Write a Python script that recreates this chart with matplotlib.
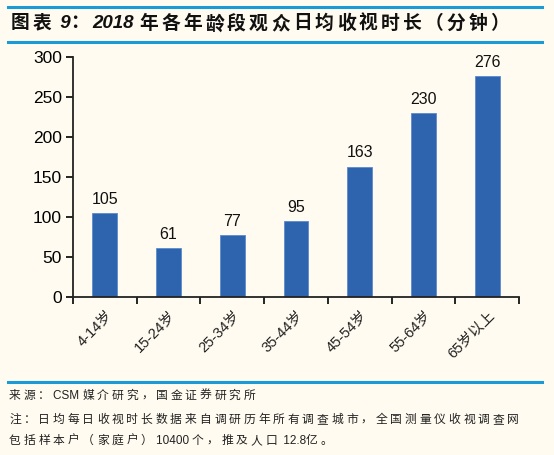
import matplotlib
matplotlib.use('Agg')
import matplotlib.pyplot as plt
from matplotlib.lines import Line2D

plt.rcParams['font.family'] = ['Liberation Sans', 'Noto Sans CJK SC', 'DejaVu Sans']
plt.rcParams['axes.unicode_minus'] = False

# data
age_groups = ['4-14岁', '15-24岁', '25-34岁', '35-44岁', '45-54岁', '55-64岁', '65岁以上']
minutes = [105, 61, 77, 95, 163, 230, 276]
y_ticks = [0, 50, 100, 150, 200, 250, 300]

title_text = '图表 9：2018 年各年龄段观众日均收视时长（分钟）'
source_text = '来源：CSM 媒介研究，国金证券研究所'
note_lines = ['注：日均每日收视时长数据来自调研历年所有调查城市，全国测量仪收视调查网',
              '包括样本户（家庭户）10400 个，推及人口 12.8亿。']

bg = '#FFFBF0'
bar_color = '#2E64AE'
line_blue = '#1A9AD6'
W, H = 554, 455

fig = plt.figure(figsize=(5.54, 4.55), dpi=100, facecolor=bg)
renderer = fig.canvas.get_renderer()


def spaced_text(x_px, y_px, s, spacing, **kw):
    # draw text run by run, adding extra space after every CJK character
    runs, cur = [], ''
    for ch in s:
        if ord(ch) < 128:
            cur += ch
        else:
            if cur:
                runs.append((cur, False))
                cur = ''
            runs.append((ch, True))
    if cur:
        runs.append((cur, False))
    x = x_px
    for r, cjk in runs:
        t = fig.text(x / W, 1 - y_px / H, r, va='center', ha='left', **kw)
        w = t.get_window_extent(renderer).width
        x += w + (spacing if cjk else 0)


ax = fig.add_axes([73 / W, 1 - 297 / H, (519 - 73) / W, (297 - 57) / H])
ax.set_facecolor(bg)

x = range(len(age_groups))
ax.bar(x, minutes, width=0.39, color=bar_color, edgecolor='#5B8AD0', linewidth=0.6)
for xi, v in zip(x, minutes):
    ax.text(xi, v + 8, str(v), ha='center', va='bottom', fontsize=11.5, color='#111111')

ax.set_xlim(-0.5, len(age_groups) - 0.5)
ax.set_ylim(0, 300)
ax.set_yticks(y_ticks)
ax.set_yticklabels([str(t) for t in y_ticks], fontsize=12.5)
ax.set_xticks([i - 0.5 for i in range(len(age_groups) + 1)])
ax.set_xticklabels([])
ax.set_xticks(list(x), minor=True)
ax.set_xticklabels(age_groups, minor=True, rotation=45, ha='right', va='top',
                   rotation_mode='anchor', fontsize=10.5, color='#222222')
ax.tick_params(axis='x', which='minor', length=0, pad=8)
ax.tick_params(axis='x', which='major', length=5, width=1.2, direction='out')
ax.tick_params(axis='y', length=5, width=1.2, direction='out', pad=3)

for s in ['top', 'right']:
    ax.spines[s].set_visible(False)
for s in ['left', 'bottom']:
    ax.spines[s].set_linewidth(1.3)
    ax.spines[s].set_color('#222222')

# header / footer rules
for yy in [7, 42, 382]:
    fig.add_artist(Line2D([8 / W, 542 / W], [1 - yy / H, 1 - yy / H],
                          color=line_blue, linewidth=2.2))

spaced_text(11, 24, title_text, 3.2, fontsize=13.5, fontweight='bold',
            style='italic', color='#111111')

spaced_text(9, 396, source_text, 2.9, fontsize=8.5, color='#222222')
spaced_text(9, 420, note_lines[0], 2.9, fontsize=8.5, color='#222222')
spaced_text(9, 441, note_lines[1], 2.9, fontsize=8.5, color='#222222')

fig.savefig('out.png', dpi=100, facecolor=bg)
